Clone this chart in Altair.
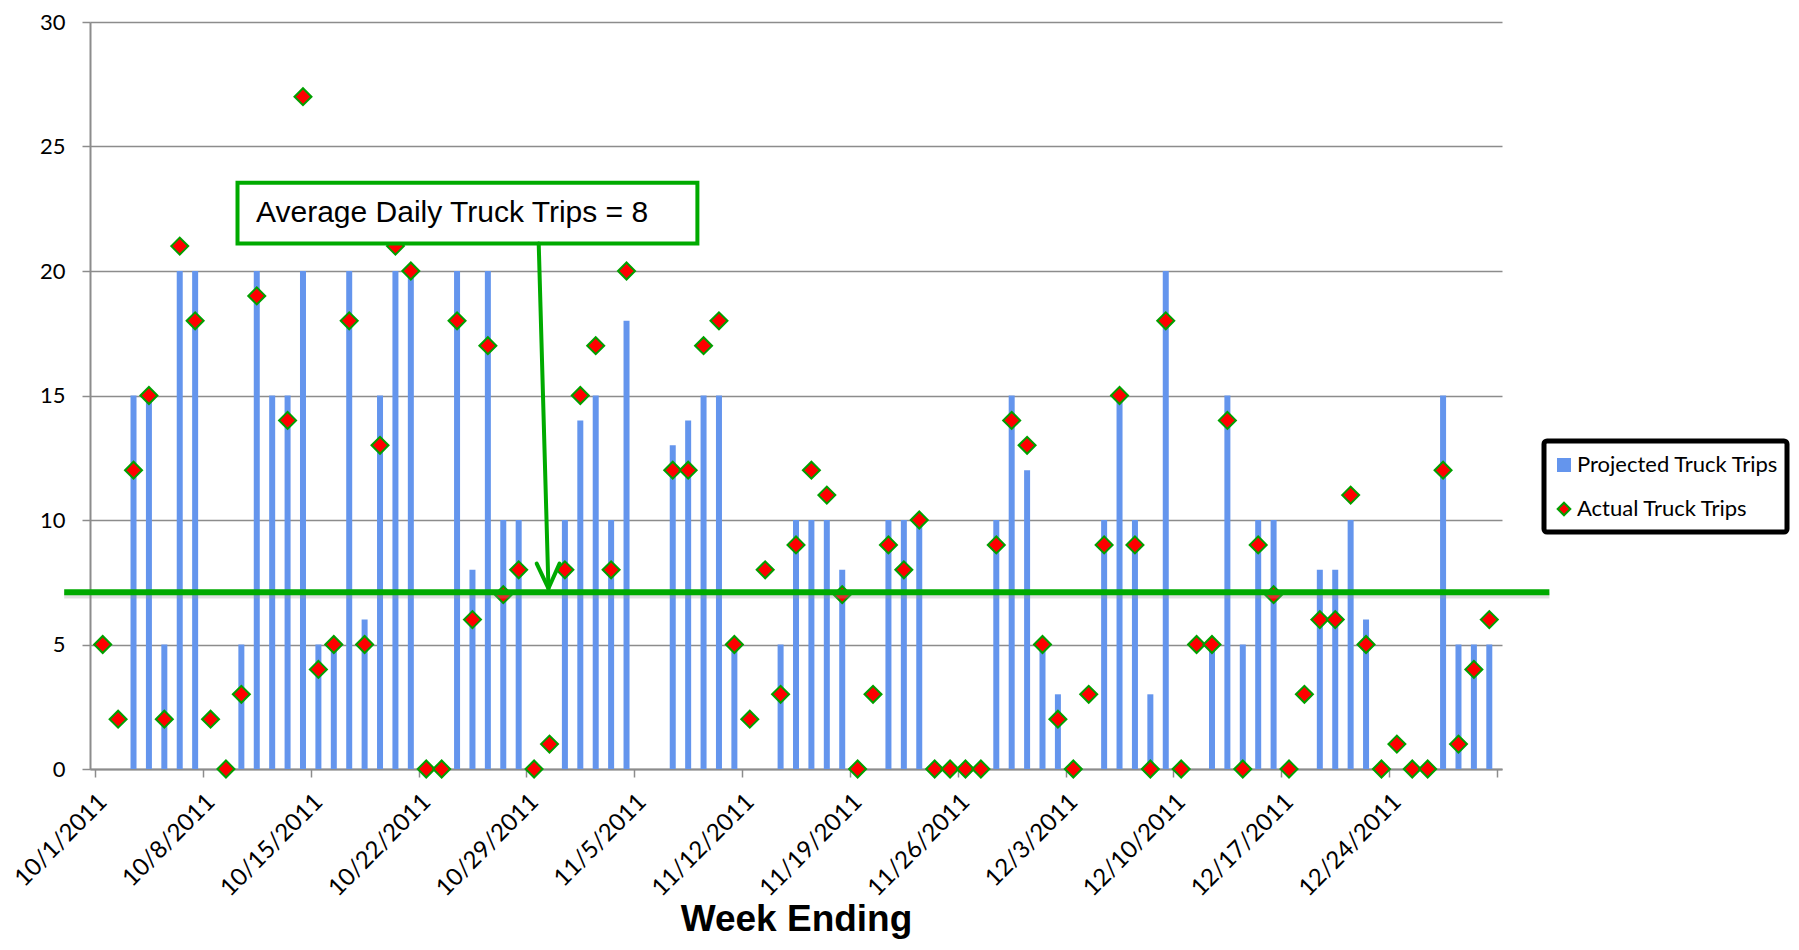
import json
import altair as alt
import pandas as pd

# ---------------- data ----------------
WEEK_LABELS = ["10/1/2011", "10/8/2011", "10/15/2011", "10/22/2011", "10/29/2011",
               "11/5/2011", "11/12/2011", "11/19/2011", "11/26/2011", "12/3/2011",
               "12/10/2011", "12/17/2011", "12/24/2011"]

# one value per day, 10/1/2011 .. 12/30/2011 (0 = no bar)
PROJECTED = [0, 0, 15, 15, 5, 20, 20, 0, 0, 5,
             20, 15, 15, 20, 5, 5, 20, 6, 15, 20,
             20, 0, 0, 20, 8, 20, 10, 10, 0, 0,
             10, 14, 15, 10, 18, 0, 0, 13, 14, 15,
             15, 5, 0, 0, 5, 10, 10, 10, 8, 0,
             0, 10, 10, 10, 0, 0, 0, 0, 10, 15,
             12, 5, 3, 0, 0, 10, 15, 10, 3, 20,
             0, 0, 5, 15, 5, 10, 10, 0, 0, 8,
             8, 10, 6, 0, 0, 0, 0, 15, 5, 5,
             5]

# None = no diamond that day
ACTUAL = [5, 2, 12, 15, 2, 21, 18, 2, 0, 3,
          19, None, 14, 27, 4, 5, 18, 5, 13, 21,
          20, 0, 0, 18, 6, 17, 7, 8, 0, 1,
          8, 15, 17, 8, 20, None, None, 12, 12, 17,
          18, 5, 2, 8, 3, 9, 12, 11, 7, 0,
          3, 9, 8, 10, 0, 0, 0, 0, 9, 14,
          13, 5, 2, 0, 3, 9, 15, 9, 0, 18,
          0, 5, 5, 14, 0, 9, 7, 0, 3, 6,
          6, 11, 5, 0, 1, 0, 0, 12, 1, 4,
          6]

AVERAGE_LEVEL = 7.1
AVERAGE_LABEL = "Average Daily Truck Trips = 8"
SERIES = ["Projected Truck Trips", "Actual Truck Trips"]

# ---------------- styles ----------------
BLUE = "#6495ED"
RED = "#FF0000"
DGREEN = "#00A000"
LGREEN = "#00AA00"
GRAY = "#8c8c8c"

df = pd.DataFrame({"day": list(range(len(ACTUAL))), "projected": PROJECTED,
                   "actual": [float("nan") if v is None else v for v in ACTUAL]})
bars_df = df[df["projected"] > 0]
pts_df = df[df["actual"].notna()]

x_scale = alt.Scale(domain=[-0.5, len(ACTUAL) - 0.5], nice=False, zero=False)
y_scale = alt.Scale(domain=[0, 30], nice=False)

label_expr = json.dumps(WEEK_LABELS) + "[round((datum.value + 0.5) / 7)] || ''"

x_axis = alt.Axis(values=[-0.5 + 7 * k for k in range(14)], labelExpr=label_expr,
                  labelAngle=-45, labelAlign="right", labelBaseline="middle",
                  labelFont="Lato", labelFontSize=24, labelColor="black",
                  labelPadding=21, labelOffset=8, labelFlush=False, labelOverlap=False,
                  tickSize=8, tickColor=GRAY, tickWidth=1.5,
                  domainColor=GRAY, domainWidth=2, grid=False,
                  title="Week Ending", titleFont="Liberation Sans", titleFontSize=37,
                  titleFontWeight="bold", titleColor="black", titleY=161,
                  titleBaseline="alphabetic")
y_axis = alt.Axis(values=[0, 5, 10, 15, 20, 25, 30], labelFont="Lato", labelFontSize=22,
                  labelColor="black", labelPadding=17, tickSize=8, tickColor=GRAY,
                  tickWidth=1.5, domainColor=GRAY, domainWidth=2, gridColor=GRAY,
                  gridWidth=1.5, title=None)

bars = alt.Chart(bars_df).mark_bar(size=6, color=BLUE).encode(
    x=alt.X("day:Q", scale=x_scale, axis=x_axis),
    y=alt.Y("projected:Q", scale=y_scale, axis=y_axis),
)

points = alt.Chart(pts_df).mark_point(shape="diamond", fill=RED, fillOpacity=1,
                                      stroke=DGREEN, strokeWidth=2, size=289,
                                      opacity=1).encode(
    x=alt.X("day:Q", scale=x_scale),
    y=alt.Y("actual:Q", scale=y_scale),
)

# average line (extends past the plot on both sides)
avg_df = pd.DataFrame({"x": [-2.5], "x2": [93.9], "y": [AVERAGE_LEVEL]})
avg_shadow = alt.Chart(avg_df).mark_rule(color="#999999", opacity=0.3, strokeWidth=6).encode(
    x=alt.X("x:Q", scale=x_scale), x2="x2",
    y=alt.Y("ys:Q", scale=y_scale)).transform_calculate(ys="datum.y - 0.13")
avg_line = alt.Chart(avg_df).mark_rule(color=LGREEN, strokeWidth=6).encode(
    x=alt.X("x:Q", scale=x_scale), x2="x2",
    y=alt.Y("y:Q", scale=y_scale))

# annotation box + arrow
box_df = pd.DataFrame({"x": [8.75], "x2": [38.6], "y": [23.54], "y2": [21.1]})
box = alt.Chart(box_df).mark_rect(fill="white", stroke=LGREEN, strokeWidth=4).encode(
    x=alt.X("x:Q", scale=x_scale), x2="x2",
    y=alt.Y("y:Q", scale=y_scale), y2="y2")
txt = alt.Chart(pd.DataFrame({"x": [9.95], "y": [21.95], "t": [AVERAGE_LABEL]})).mark_text(
    align="left", baseline="alphabetic", font="Liberation Sans", fontSize=30,
    color="black").encode(x=alt.X("x:Q", scale=x_scale), y=alt.Y("y:Q", scale=y_scale),
                          text="t:N")
arrow_df = pd.DataFrame({"x": [28.30, 28.17, 29.65], "x2": [28.93, 28.93, 28.93],
                         "y": [21.1, 8.25, 8.25], "y2": [7.3, 7.25, 7.25]})
arrow = alt.Chart(arrow_df).mark_rule(color=LGREEN, strokeWidth=4, strokeCap="round").encode(
    x=alt.X("x:Q", scale=x_scale), x2="x2",
    y=alt.Y("y:Q", scale=y_scale), y2="y2")

# legend (drawn manually, to the right of the plot)
one = pd.DataFrame({"a": [0]})
leg_box = alt.Chart(one).mark_rect(fill="white", stroke="black", strokeWidth=5,
                                   cornerRadius=3).encode(
    x=alt.value(1454), x2=alt.value(1697), y=alt.value(419), y2=alt.value(510))
leg_sq = alt.Chart(one).mark_square(size=196, color=BLUE, opacity=1).encode(
    x=alt.value(1474), y=alt.value(443))
leg_dm = alt.Chart(one).mark_point(shape="diamond", fill=RED, fillOpacity=1, stroke=DGREEN,
                                   strokeWidth=2, size=160, opacity=1).encode(
    x=alt.value(1474), y=alt.value(487))
leg_t1 = alt.Chart(one).mark_text(align="left", baseline="middle", font="Lato",
                                  fontSize=22, color="black").encode(
    x=alt.value(1487), y=alt.value(443), text=alt.value(SERIES[0]))
leg_t2 = alt.Chart(one).mark_text(align="left", baseline="middle", font="Lato",
                                  fontSize=22, color="black").encode(
    x=alt.value(1487), y=alt.value(487), text=alt.value(SERIES[1]))

chart = alt.layer(bars, points, avg_shadow, avg_line, box, txt, arrow,
                  leg_box, leg_sq, leg_dm, leg_t1, leg_t2).properties(
    width=1412, height=747,
    padding={"left": 82, "top": 14, "right": 289, "bottom": 171},
    autosize=alt.AutoSizeParams(type="none"),
    background="white",
).configure_view(stroke=None)

chart.save("out.html", embed_options={"renderer": "svg", "actions": False})
